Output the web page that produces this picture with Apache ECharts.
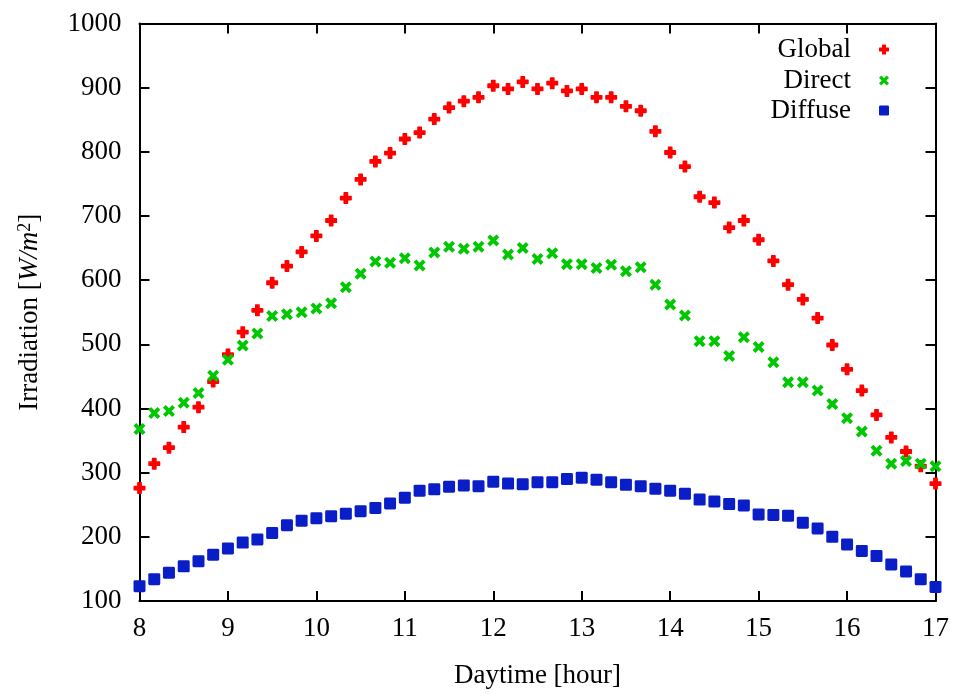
<!DOCTYPE html>
<html>
<head>
<meta charset="utf-8">
<title>Irradiation</title>
<script src="https://cdn.jsdelivr.net/npm/echarts@6/dist/echarts.min.js"></script>
<style>
  html, body { margin: 0; padding: 0; background: #fff; }
  #chart { width: 956px; height: 694px; }
</style>
</head>
<body>
<div id="chart"></div>
<script>
// hour of day, one reading every 10 minutes
const hours = [
  8, 8.167, 8.333, 8.5, 8.667, 8.833, 9, 9.167, 9.333, 9.5, 9.667, 9.833,
  10, 10.167, 10.333, 10.5, 10.667, 10.833, 11, 11.167, 11.333, 11.5, 11.667, 11.833,
  12, 12.167, 12.333, 12.5, 12.667, 12.833, 13, 13.167, 13.333, 13.5, 13.667, 13.833,
  14, 14.167, 14.333, 14.5, 14.667, 14.833, 15, 15.167, 15.333, 15.5, 15.667, 15.833,
  16, 16.167, 16.333, 16.5, 16.667, 16.833, 17
];
const globalVals = [
  276, 314, 339, 371, 402, 442, 484, 519, 553, 596, 622, 644,
  669, 693, 728, 757, 785, 798, 820, 830, 851, 869, 879, 885,
  903, 898, 909, 898, 907, 895, 898, 885, 885, 871, 864, 832,
  799, 777, 730, 721, 682, 693, 663, 630, 593, 570, 541, 499,
  461, 428, 390, 355, 333, 310, 283
];
const directVals = [
  368, 393, 396, 409, 424, 451, 476, 498, 517, 544, 547, 550,
  556, 564, 589, 610, 629, 627, 634, 623, 643, 652, 649, 652,
  662, 640, 650, 633, 642, 625, 625, 619, 624, 614, 620, 593,
  562, 545, 505, 505, 482, 511, 496, 472, 441, 441, 428, 407,
  385, 364, 334, 314, 318, 314, 310
];
const diffuseVals = [
  123, 134, 144, 154, 162, 172, 182, 191, 196, 206, 218, 225,
  229, 232, 236, 240, 245, 252, 261, 272, 274, 278, 280, 279,
  286, 283, 282, 285, 285, 290, 292, 289, 285, 281, 279, 275,
  272, 267, 258, 255, 251, 249, 235, 234, 233, 222, 213, 200,
  188, 178, 170, 157, 146, 134, 122
];
const seriesNames = ["Global", "Direct", "Diffuse"];

const font = "'Liberation Serif', 'DejaVu Serif', serif";
const fs = 27;
// chunky plus, thick x, soft square (gnuplot-like point types)
const plusPath = "path://M3,0.6Q3,0 3.6,0H6.4Q7,0 7,0.6V3H9.4Q10,3 10,3.6V6.4Q10,7 9.4,7H7V9.4Q7,10 6.4,10H3.6Q3,10 3,9.4V7H0.6Q0,7 0,6.4V3.6Q0,3 0.6,3H3Z";
const crossPath = "path://M0,2.3L2.3,0L5,2.7L7.7,0L10,2.3L7.3,5L10,7.7L7.7,10L5,7.3L2.3,10L0,7.7L2.7,5Z";
const squarePath = "path://M1.2,0H8.8Q10,0 10,1.2V8.8Q10,10 8.8,10H1.2Q0,10 0,8.8V1.2Q0,0 1.2,0Z";
const marks = [
  { symbol: plusPath, size: 12, legendSize: 10, color: "#ff0000" },
  { symbol: crossPath, size: 12, legendSize: 10, color: "#00c800" },
  { symbol: squarePath, size: 12, legendSize: 10, color: "#0a1ec8" }
];

const toPoints = (vals) => hours.map((h, i) => [h, vals[i]]);

const frameLine = { show: true, lineStyle: { color: "#000", width: 2 } };
const frameTick = { show: true, inside: true, length: 10, lineStyle: { color: "#000", width: 2 } };

const xBase = { type: "value", min: 8, max: 17, interval: 1, splitLine: { show: false },
  axisLine: frameLine, axisTick: frameTick };
const yBase = { type: "value", min: 100, max: 1000, interval: 100, splitLine: { show: false },
  axisLine: frameLine, axisTick: frameTick };

const legendTops = [36, 67, 97];

const option = {
  animation: false,
  backgroundColor: "#fff",
  grid: { left: 139.5, right: 20.5, top: 23.5, bottom: 92.5 },
  xAxis: [
    {
      ...xBase,
      position: "bottom",
      axisLabel: { color: "#000", fontFamily: font, fontSize: fs, margin: 14 },
      name: "Daytime [hour]",
      nameLocation: "middle",
      nameGap: 61,
      nameTextStyle: { color: "#000", fontFamily: font, fontSize: fs }
    },
    { ...xBase, position: "top", axisLabel: { show: false } }
  ],
  yAxis: [
    {
      ...yBase,
      position: "left",
      axisLabel: { color: "#000", fontFamily: font, fontSize: fs, margin: 18, formatter: (v) => String(v) },
      name: "Irradiation [{i|W/m}{s|2}]",
      nameLocation: "middle",
      nameGap: 96,
      nameTextStyle: {
        color: "#000", fontFamily: font, fontSize: fs,
        rich: {
          i: { fontFamily: font, fontSize: fs, fontStyle: "italic", color: "#000" },
          s: { fontFamily: font, fontSize: 18, color: "#000", verticalAlign: "top" }
        }
      }
    },
    { ...yBase, position: "right", axisLabel: { show: false } }
  ],
  legend: seriesNames.map((name, k) => ({
    data: [{ name, icon: marks[k].symbol }],
    orient: "vertical",
    align: "right",
    right: 45,
    top: legendTops[k],
    padding: 0,
    itemWidth: 56,
    itemHeight: marks[k].legendSize,
    selectedMode: false,
    textStyle: { color: "#000", fontFamily: font, fontSize: fs }
  })).map((l) => ({ ...l, right: 45 + 22 })),
  series: seriesNames.map((name, k) => ({
    name,
    type: "scatter",
    clip: false,
    symbol: marks[k].symbol,
    symbolSize: marks[k].size,
    symbolKeepAspect: true,
    itemStyle: { color: marks[k].color, opacity: 1 },
    data: toPoints([globalVals, directVals, diffuseVals][k])
  }))
};

const chart = echarts.init(document.getElementById("chart"));
chart.setOption(option);
</script>
</body>
</html>
